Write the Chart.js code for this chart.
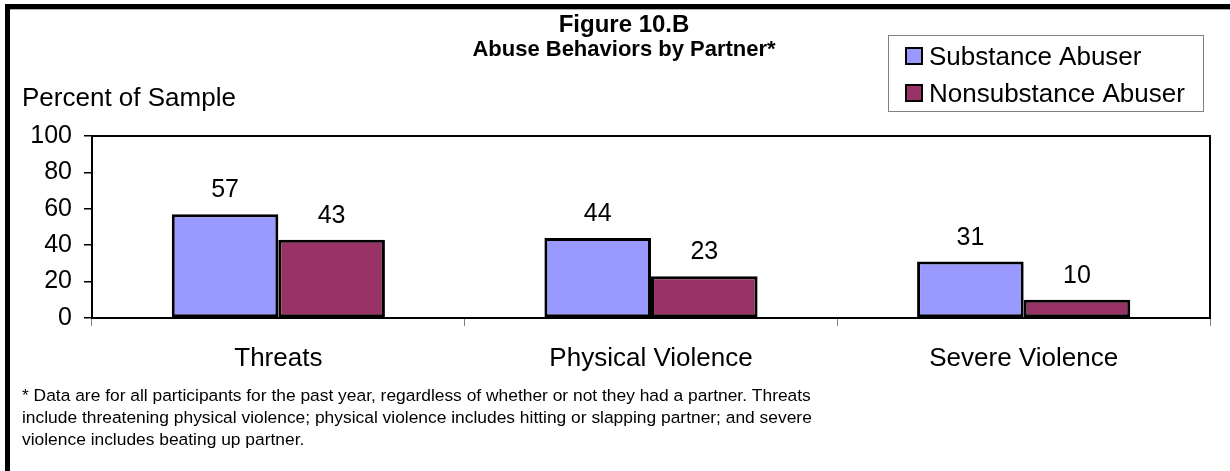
<!DOCTYPE html>
<html>
<head>
<meta charset="utf-8">
<title>Figure 10.B</title>
<script src="https://cdn.jsdelivr.net/npm/chart.js@4.4.1/dist/chart.umd.min.js"></script>
<style>
  body { margin: 0; background: #fff; }
  canvas { display: block; }
</style>
</head>
<body>
<canvas id="abuseChart" width="1230" height="471"></canvas>
<script>
const categories = ['Threats', 'Physical Violence', 'Severe Violence'];
const substanceAbuser = [57, 44, 31];
const nonsubstanceAbuser = [43, 23, 10];
const yTicks = [0, 20, 40, 60, 80, 100];
const titleLines = ['Figure 10.B', 'Abuse Behaviors by Partner*'];
const yAxisTitle = 'Percent of Sample';
const footnoteLines = [
    '* Data are for all participants for the past year, regardless of whether or not they had a partner. Threats',
    'include threatening physical violence; physical violence includes hitting or slapping partner; and severe',
    'violence includes beating up partner.'
];

const FONT = '"Liberation Sans", Arial, sans-serif';

// frame, title, legend, value labels and footnote drawn around the chart area
const decorations = {
    id: 'decorations',
    beforeDraw(chart) {
        const ctx = chart.ctx;
        ctx.save();
        ctx.fillStyle = '#fff';
        ctx.fillRect(0, 0, chart.width, chart.height);
        ctx.fillStyle = '#000';
        ctx.fillRect(5, 4, chart.width - 5, 5);
        ctx.fillRect(5, 4, 5, chart.height - 4);
        ctx.fillStyle = '#b0b0b0';
        ctx.fillRect(10, 9, chart.width - 10, 1);
        ctx.restore();
    },
    afterDraw(chart) {
        const ctx = chart.ctx;
        const area = chart.chartArea;
        ctx.save();

        // plot frame (top and right)
        ctx.strokeStyle = '#000';
        ctx.lineWidth = 2;
        ctx.beginPath();
        ctx.moveTo(area.left, area.top);
        ctx.lineTo(area.right, area.top);
        ctx.lineTo(area.right, area.bottom);
        ctx.stroke();

        // title
        ctx.fillStyle = '#000';
        ctx.textAlign = 'center';
        ctx.textBaseline = 'alphabetic';
        ctx.font = 'bold 24px ' + FONT;
        ctx.fillText(titleLines[0], 624, 32);
        ctx.font = 'bold 22px ' + FONT;
        ctx.fillText(titleLines[1], 624, 56);

        // axis title
        ctx.textAlign = 'left';
        ctx.font = '26px ' + FONT;
        ctx.fillText(yAxisTitle, 22, 106);

        // legend
        ctx.strokeStyle = '#808080';
        ctx.lineWidth = 1;
        ctx.strokeRect(888.5, 35.5, 315, 76);
        chart.data.datasets.forEach((ds, i) => {
            const y = 47 + i * 37;
            ctx.fillStyle = ds.backgroundColor;
            ctx.fillRect(905, y, 18, 18);
            ctx.strokeStyle = '#000';
            ctx.lineWidth = 2;
            ctx.strokeRect(906, y + 1, 16, 16);
            ctx.fillStyle = '#000';
            ctx.font = '26px ' + FONT;
            ctx.fillText(ds.label, 929, y + 18);
        });

        // value labels
        ctx.textAlign = 'center';
        ctx.font = '25px ' + FONT;
        chart.data.datasets.forEach((ds, i) => {
            chart.getDatasetMeta(i).data.forEach((bar, j) => {
                ctx.fillText(String(ds.data[j]), bar.x, bar.y - 17);
            });
        });

        // footnote
        ctx.textAlign = 'left';
        ctx.font = '17.4px ' + FONT;
        footnoteLines.forEach((line, i) => {
            ctx.fillText(line, 22, 401 + i * 22);
        });

        ctx.restore();
    }
};

const ctx = document.getElementById('abuseChart').getContext('2d');
new Chart(ctx, {
    type: 'bar',
    data: {
        labels: categories,
        datasets: [
            {
                label: 'Substance Abuser',
                data: substanceAbuser,
                backgroundColor: '#9999ff',
                borderColor: '#000',
                borderWidth: 3,
                borderSkipped: false
            },
            {
                label: 'Nonsubstance Abuser',
                data: nonsubstanceAbuser,
                backgroundColor: '#993366',
                borderColor: '#000',
                borderWidth: 3,
                borderSkipped: false
            }
        ]
    },
    options: {
        responsive: false,
        devicePixelRatio: 1,
        animation: false,
        categoryPercentage: 0.572,
        barPercentage: 1,
        layout: { padding: { top: 136, right: 20, left: 0, bottom: 0 } },
        plugins: {
            legend: { display: false },
            title: { display: false },
            tooltip: { enabled: false }
        },
        scales: {
            x: {
                afterFit: (axis) => { axis.height = 153; },
                border: { display: true, color: '#000', width: 2 },
                grid: {
                    display: true,
                    drawOnChartArea: false,
                    offset: true,
                    tickLength: 8,
                    color: '#808080'
                },
                ticks: {
                    color: '#000',
                    padding: 17,
                    maxRotation: 0,
                    font: { family: FONT, size: 26 }
                }
            },
            y: {
                min: 0,
                max: 100,
                afterFit: (axis) => { axis.width = 92; },
                afterBuildTicks: (axis) => { axis.ticks = yTicks.map(v => ({ value: v })); },
                border: { display: true, color: '#000', width: 2 },
                grid: {
                    display: true,
                    drawOnChartArea: false,
                    tickLength: 8,
                    color: '#000',
                    lineWidth: 1.5
                },
                ticks: {
                    color: '#000',
                    padding: 12,
                    font: { family: FONT, size: 25 }
                }
            }
        }
    },
    plugins: [decorations]
});
</script>
</body>
</html>
